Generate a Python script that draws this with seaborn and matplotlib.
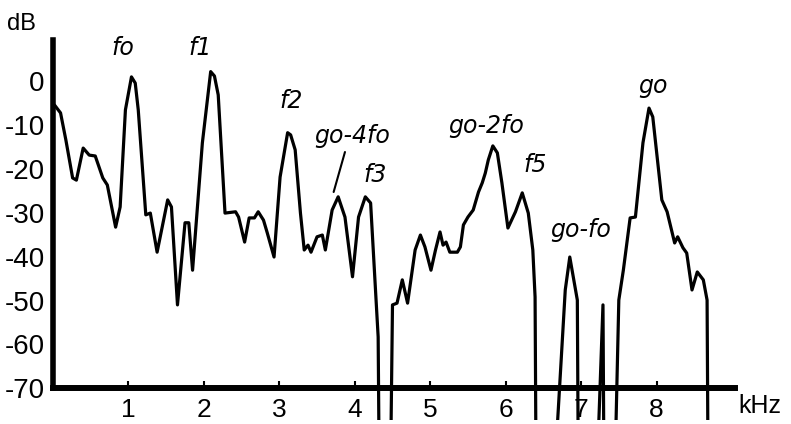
import numpy as np
import pandas as pd
import seaborn as sns
import matplotlib
matplotlib.use("Agg")
import matplotlib.pyplot as plt

# ---- data (kHz, dB); -80 marks a drop below the floor ----
khz_a = [0.02, 0.10, 0.17, 0.26, 0.31, 0.40, 0.48, 0.56, 0.66, 0.72, 0.83, 0.89,
         0.96, 1.04, 1.09, 1.13, 1.23, 1.29, 1.38, 1.52, 1.57, 1.65, 1.75, 1.80,
         1.85, 1.98, 2.09, 2.14, 2.19, 2.28, 2.42, 2.46, 2.54, 2.60, 2.67, 2.72,
         2.79, 2.84, 2.93, 3.01, 3.11, 3.15, 3.21, 3.28, 3.33, 3.38, 3.42, 3.50,
         3.57, 3.61, 3.70, 3.78, 3.87, 3.97, 4.05, 4.14, 4.21, 4.28, 4.31, 4.32]
db_a = [-5.5, -7.3, -13.4, -22.1, -22.6, -15.3, -16.9, -17.1, -22.1, -23.7, -33.3, -28.7,
        -6.6, 0.9, -0.5, -6.6, -30.5, -30.1, -39.0, -27.1, -28.7, -51.0, -32.3, -32.3,
        -43.1, -14.1, 2.1, 1.1, -3.2, -30.1, -29.8, -31.0, -36.7, -31.2, -31.2, -29.8,
        -31.7, -34.6, -40.1, -21.9, -11.8, -12.3, -15.7, -30.1, -38.5, -37.4, -39.0, -35.5,
        -35.1, -38.5, -29.4, -26.4, -31.0, -44.6, -31.0, -26.4, -27.8, -49.2, -58.3, -80.0]

khz_b = [4.48, 4.50, 4.56, 4.63, 4.70, 4.80, 4.87, 4.93, 5.01, 5.07, 5.13, 5.17,
         5.21, 5.26, 5.36, 5.40, 5.44, 5.50, 5.57, 5.64, 5.69, 5.73, 5.77, 5.83,
         5.89, 5.95, 6.03, 6.13, 6.22, 6.30, 6.36, 6.39, 6.40]
db_b = [-80.0, -51.0, -50.6, -45.3, -50.6, -38.5, -35.1, -37.8, -43.1, -38.5, -34.4, -37.4,
        -36.7, -39.0, -39.0, -37.8, -32.8, -31.0, -29.4, -25.3, -23.2, -21.0, -18.0, -14.8,
        -16.4, -23.2, -33.5, -29.8, -25.5, -30.1, -38.5, -49.2, -80.0]

khz_c = [6.68, 6.79, 6.85, 6.95, 6.96]
db_c = [-80.0, -47.6, -40.1, -49.9, -80.0]

khz_d = [7.23, 7.29, 7.30]
db_d = [-80.0, -51.0, -80.0]

khz_e = [7.46, 7.50, 7.56, 7.65, 7.72, 7.82, 7.90, 7.95, 8.07, 8.14, 8.24, 8.28,
         8.35, 8.40, 8.47, 8.54, 8.62, 8.67, 8.68]
db_e = [-80.0, -49.9, -43.1, -31.2, -31.0, -14.1, -6.2, -8.2, -27.1, -29.8, -36.9, -35.5,
        -38.0, -39.2, -47.6, -43.5, -45.3, -49.9, -80.0]

peak_labels = ["fo", "f1", "f2", "go-4fo", "f3", "go-2fo", "f5", "go-fo", "go"]
peak_khz = [0.93, 1.95, 3.16, 3.97, 4.27, 5.74, 6.39, 7.00, 7.95]
peak_db = [5.9, 5.9, -6.2, -14.1, -23.0, -11.8, -20.7, -35.5, -2.7]

x_ticks = [1, 2, 3, 4, 5, 6, 7, 8]
y_ticks = [0, -10, -20, -30, -40, -50, -60, -70]

# ---- build table ----
segs = [(khz_a, db_a), (khz_b, db_b), (khz_c, db_c), (khz_d, db_d), (khz_e, db_e)]
rows = []
for i, (xs, ys) in enumerate(segs):
    for j, (x, y) in enumerate(zip(xs, ys)):
        rows.append({"seg": i, "order": j, "khz": x, "db": y})
df = pd.DataFrame(rows)

sns.set_theme(style="white")
plt.rcParams["font.family"] = ["Liberation Sans", "DejaVu Sans"]
plt.rcParams["axes.unicode_minus"] = False

W, H = 791, 424
fig = plt.figure(figsize=(W / 100, H / 100), dpi=100)
ax = fig.add_axes([53 / W, 4 / H, (735 - 53) / W, 380 / H])

sns.lineplot(data=df, x="khz", y="db", units="seg", estimator=None, sort=False,
             color="black", linewidth=2.3, ax=ax, legend=False)

ax.set_xlim(0, 9.04)
ax.set_ylim(-77.2, 9.3)
ax.set_xlabel("")
ax.set_ylabel("")

for s in ["top", "right"]:
    ax.spines[s].set_visible(False)
ax.spines["left"].set_linewidth(4)
ax.spines["bottom"].set_linewidth(4.3)
ax.spines["left"].set_color("black")
ax.spines["bottom"].set_color("black")
ax.spines["bottom"].set_position(("data", -70))
ax.spines["left"].set_bounds(-70, 9.3)

ax.set_xticks(x_ticks)
ax.set_xticklabels([str(t) for t in x_ticks])
ax.set_yticks(y_ticks)
ax.set_yticklabels([str(t) for t in y_ticks])
ax.tick_params(axis="x", direction="in", length=5, width=1.5, color="black",
               labelsize=19, pad=7, bottom=True)
ax.tick_params(axis="y", length=0, labelsize=20, pad=6, left=True)
for lab in ax.get_xticklabels() + ax.get_yticklabels():
    lab.set_color("black")

for name, x, y in zip(peak_labels, peak_khz, peak_db):
    ax.text(x, y, name, ha="center", va="baseline", fontsize=17,
            fontstyle="italic", family="DejaVu Sans", color="black")

# leader line for go-4fo
ax.plot([3.87, 3.72], [-16.2, -25.3], color="black", linewidth=1.5)

fig.text(7 / W, 1 - 30 / H, "dB", fontsize=17, va="baseline", ha="left", color="black")
fig.text(738 / W, 1 - 413 / H, "kHz", fontsize=18, va="baseline", ha="left", color="black")

fig.savefig("out.png", dpi=100, facecolor="white")
